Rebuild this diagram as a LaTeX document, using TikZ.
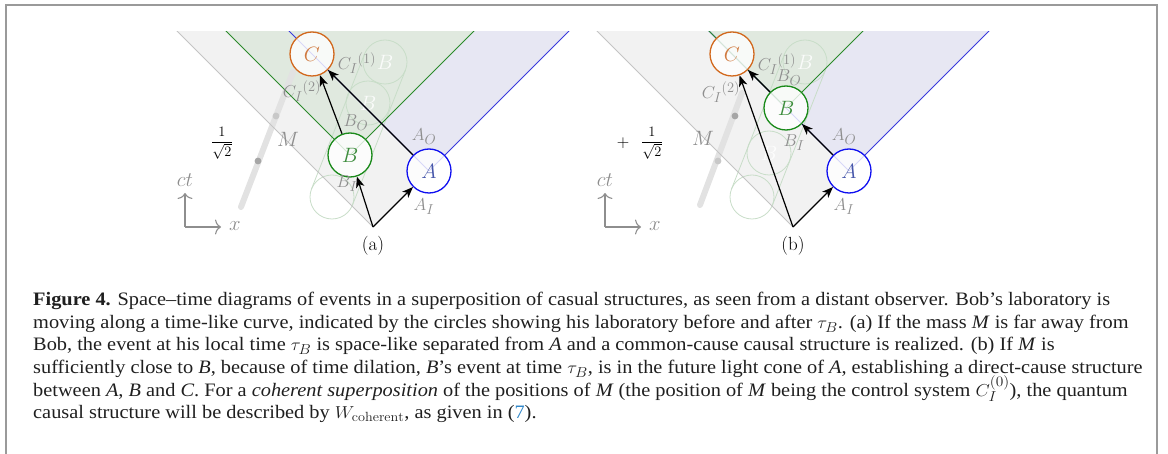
\documentclass[tikz,border=0pt]{standalone}
\usepackage{fontspec}
\usepackage{graphicx}
\usetikzlibrary{arrows.meta,calc}
\newfontfamily\capfont{Liberation Serif}
\definecolor{labgray}{HTML}{8E8E8E}
\definecolor{framegray}{HTML}{9A9A9A}
\definecolor{conegray}{HTML}{F2F2F2}
\definecolor{edgegray}{HTML}{C4C4C4}
\definecolor{coneblue}{HTML}{E7E7F3}
\definecolor{conegreen}{HTML}{E0E9DF}
\definecolor{lineblue}{HTML}{3A3ADC}
\definecolor{linegreen}{HTML}{2B8A2B}
\definecolor{ghostgreen}{HTML}{C8DDC8}
\definecolor{evA}{HTML}{1010F0}
\definecolor{evAtext}{HTML}{4656AA}
\definecolor{evB}{HTML}{1A8A1A}
\definecolor{evBtext}{HTML}{3C8C3C}
\definecolor{evC}{HTML}{D2691E}
\definecolor{evCtext}{HTML}{D07A40}
\definecolor{wline}{HTML}{E2E2E2}
\definecolor{dotdark}{HTML}{A6A6A6}
\definecolor{dotlight}{HTML}{C8C8C8}
\definecolor{linkblue}{HTML}{2F86C8}
\newlength\mycapw
\newcommand\capfnt{\capfont\fontsize{19}{22}\selectfont}
\newcommand\capone{\textbf{Figure 4.} Space–time diagrams of events in a superposition of casual structures, as seen from a distant observer. Bob’s laboratory is}
\newcommand\capline[1]{\scalebox{\mycapsx}[1]{#1}}
\AtBeginDocument{%
  \settowidth{\mycapw}{\capfnt\capone}%
  \pgfmathsetmacro{\mycapsx}{1077/\mycapw}%
}
\begin{document}
\begin{tikzpicture}[x=1pt,y=-1pt,
  lbl/.style={text=labgray, inner sep=0, font=\fontsize{19}{22}\selectfont},
  evt/.style={circle, minimum size=44pt, inner sep=0, line width=1.3pt, fill=white, fill opacity=0.8, text opacity=1, font=\fontsize{22}{26}\selectfont},
  ghost/.style={circle, minimum size=44pt, inner sep=0, draw=ghostgreen, line width=0.8pt, text=white, text opacity=0.85, font=\fontsize{22}{26}\selectfont},
  causal/.style={-{Stealth[length=11pt,width=8.5pt,inset=3pt]}, line width=1.2pt, black},
  axarrow/.style={-{Computer Modern Rightarrow[length=6pt,width=15pt]}, line width=1.1pt, labgray},
  wl/.style={line width=6pt, line cap=round, wline},
  capnode/.style={anchor=base west, inner sep=0, font=\capfnt, text=black!88},
  fracnode/.style={inner sep=0, font=\fontsize{15}{18}\selectfont}
]
\useasboundingbox (0,0) rectangle (1168,454);

% frame
\draw[framegray, line width=2pt] (6,454) -- (6,5) -- (1157,5) -- (1157,454);

% ---------- coordinates ----------
\coordinate (O1) at (373,227);
\coordinate (A1c) at (429,171);
\coordinate (B1c) at (350,155);
\coordinate (C1c) at (312,54);
\coordinate (O2) at (793,227);
\coordinate (A2c) at (849,171);
\coordinate (B2c) at (786,108);
\coordinate (C2c) at (732,54);
\coordinate (t10) at (332,197);
\coordinate (t11) at (385,62);
\coordinate (t20) at (752,197);
\coordinate (t21) at (805,62);

% ---------- cones ----------
\begin{scope}
\clip (0,31.5) rectangle (1168,454);
\fill[conegray] (O1) -- ++(-300,-300) -- ++(600,0) -- cycle;
\fill[conegray] (O2) -- ++(-300,-300) -- ++(600,0) -- cycle;
\fill[coneblue] (A1c) -- ++(-300,-300) -- ++(600,0) -- cycle;
\fill[coneblue] (A2c) -- ++(-300,-300) -- ++(600,0) -- cycle;
\fill[conegreen] (B1c) -- ++(-300,-300) -- ++(600,0) -- cycle;
\fill[conegreen] (B2c) -- ++(-300,-300) -- ++(600,0) -- cycle;

% Bob's laboratory trajectory (ghost circles and tube)
\draw[ghostgreen, line width=0.8pt] ($(t10)!22pt!90:(t11)$) -- ($(t11)!22pt!-90:(t10)$);
\draw[ghostgreen, line width=0.8pt] ($(t10)!22pt!-90:(t11)$) -- ($(t11)!22pt!90:(t10)$);
\draw[ghostgreen, line width=0.8pt] ($(t20)!22pt!90:(t21)$) -- ($(t21)!22pt!-90:(t20)$);
\draw[ghostgreen, line width=0.8pt] ($(t20)!22pt!-90:(t21)$) -- ($(t21)!22pt!90:(t20)$);
\node[ghost] (g10) at (t10) {};
\node[ghost] (g12) at (368,103) {$B$};
\node[ghost] (g13) at (t11) {$B$};
\node[ghost] (g20) at (t20) {};
\node[ghost] (g21) at (769,153) {$B$};
\node[ghost] (g23) at (t21) {$B$};

% mass world lines
\coordinate (m10) at (241,207);
\coordinate (m11) at (293,72);
\coordinate (m20) at (700,205);
\coordinate (m21) at (742,93);
\draw[wl] (m10) -- (m11);
\draw[wl] (m20) -- (m21);
\fill[dotdark] (258,161) circle (3.4pt);
\fill[dotlight] (276,116) circle (3.4pt);
\fill[dotdark] (735,116) circle (3.4pt);
\fill[dotlight] (718,161) circle (3.4pt);

% cone edges
\draw[edgegray, line width=0.8pt] (O1) -- ++(-300,-300);
\draw[edgegray, line width=0.8pt] (O2) -- ++(-300,-300);
\draw[lineblue, line width=1pt] (A1c) -- ++(-300,-300);
\draw[lineblue, line width=1pt] (A1c) -- ++(300,-300);
\draw[lineblue, line width=1pt] (A2c) -- ++(-300,-300);
\draw[lineblue, line width=1pt] (A2c) -- ++(300,-300);
\draw[linegreen, line width=1pt] (B1c) -- ++(-300,-300);
\draw[linegreen, line width=1pt] (B1c) -- ++(300,-300);
\draw[linegreen, line width=1pt] (B2c) -- ++(-300,-300);
\draw[linegreen, line width=1pt] (B2c) -- ++(300,-300);
\end{scope}

% ---------- events ----------
\node[evt, draw=evA, text=evAtext] (A1) at (A1c) {$A$};
\node[evt, draw=evB, text=evBtext] (B1) at (B1c) {$B$};
\node[evt, draw=evC, text=evCtext] (C1) at (C1c) {$C$};
\node[evt, draw=evA, text=evAtext] (A2) at (A2c) {$A$};
\node[evt, draw=evB, text=evBtext] (B2) at (B2c) {$B$};
\node[evt, draw=evC, text=evCtext] (C2) at (C2c) {$C$};

% ---------- causal arrows ----------
\draw[causal] (O1) -- (A1);
\draw[causal] (O1) -- (B1);
\draw[causal] (B1) -- (C1);
\draw[causal] (A1) -- (C1);
\draw[causal] (O2) -- (A2);
\draw[causal] (A2) -- (B2);
\draw[causal] (B2) -- (C2);
\draw[causal] (O2) -- (C2);

% ---------- labels left ----------
\node[lbl] (c1a) at (357,63) {${C_I}^{(1)}$};
\node[lbl] (c2a) at (302,91) {${C_I}^{(2)}$};
\node[lbl] (boa) at (356,123) {$B_O$};
\node[lbl] (aoa) at (424,137) {$A_O$};
\node[lbl, font=\fontsize{21}{24}\selectfont] (ma) at (288,139) {$M$};
\node[lbl] (bia) at (347,184) {$B_I$};
\node[lbl] (aia) at (424,207) {$A_I$};
\node[inner sep=0, font=\fontsize{19}{22}\selectfont] (capa) at (373,246) {(a)};
\node[fracnode] (fra) at (222,143) {$\displaystyle\frac{1}{\sqrt{2}}$};

% ---------- labels right ----------
\node[lbl] (c1b) at (777,64) {${C_I}^{(1)}$};
\node[lbl] (bob) at (789,78) {$B_O$};
\node[lbl] (c2b) at (721,92) {${C_I}^{(2)}$};
\node[lbl] (aob) at (844,137) {$A_O$};
\node[lbl, font=\fontsize{21}{24}\selectfont] (mb) at (703,138) {$M$};
\node[lbl] (bib) at (794,143) {$B_I$};
\node[lbl] (aib) at (844,207) {$A_I$};
\node[inner sep=0, font=\fontsize{19}{22}\selectfont] (capb) at (793,246) {(b)};
\node[inner sep=0, font=\fontsize{18}{22}\selectfont] (plusb) at (623,143) {$+$};
\node[fracnode] (frb) at (652,143) {$\displaystyle\frac{1}{\sqrt{2}}$};

% ---------- axes ----------
\coordinate (ax1) at (185,227);
\coordinate (ax1t) at (185,193);
\coordinate (ax1x) at (221,227);
\draw[axarrow] (ax1) -- (ax1t);
\draw[axarrow] (ax1) -- (ax1x);
\node[lbl, font=\fontsize{20}{24}\selectfont] (cta) at (185,180) {$ct$};
\node[lbl, font=\fontsize{20}{24}\selectfont] (xa) at (235,226) {$x$};
\coordinate (ax2) at (605,227);
\coordinate (ax2t) at (605,193);
\coordinate (ax2x) at (641,227);
\draw[axarrow] (ax2) -- (ax2t);
\draw[axarrow] (ax2) -- (ax2x);
\node[lbl, font=\fontsize{20}{24}\selectfont] (ctb) at (605,180) {$ct$};
\node[lbl, font=\fontsize{20}{24}\selectfont] (xb) at (655,226) {$x$};

% ---------- caption ----------
\node[capnode] (cap1) at (33,306) {\capline{\capone}};
\node[capnode] (cap2) at (33,328.5) {\capline{moving along a time-like curve, indicated by the circles showing his laboratory before and after $\tau_B$. (a) If the mass \textit{M} is far away from}};
\node[capnode] (cap3) at (33,351) {\capline{Bob, the event at his local time $\tau_B$ is space-like separated from \textit{A} and a common-cause causal structure is realized. (b) If \textit{M} is}};
\node[capnode] (cap4) at (33,373.5) {\capline{sufficiently close to \textit{B}, because of time dilation, \textit{B}’s event at time $\tau_B$, is in the future light cone of \textit{A}, establishing a direct-cause structure}};
\node[capnode] (cap5) at (33,396) {\capline{between \textit{A}, \textit{B} and \textit{C}. For a \textit{coherent superposition} of the positions of \textit{M} (the position of \textit{M} being the control system $C_I^{(0)}$), the quantum}};
\node[capnode] (cap6) at (33,418.5) {\capline{causal structure will be described by $W_{\mathrm{coherent}}$, as given in (\textcolor{linkblue}{7}).}};
\end{tikzpicture}
\end{document}
